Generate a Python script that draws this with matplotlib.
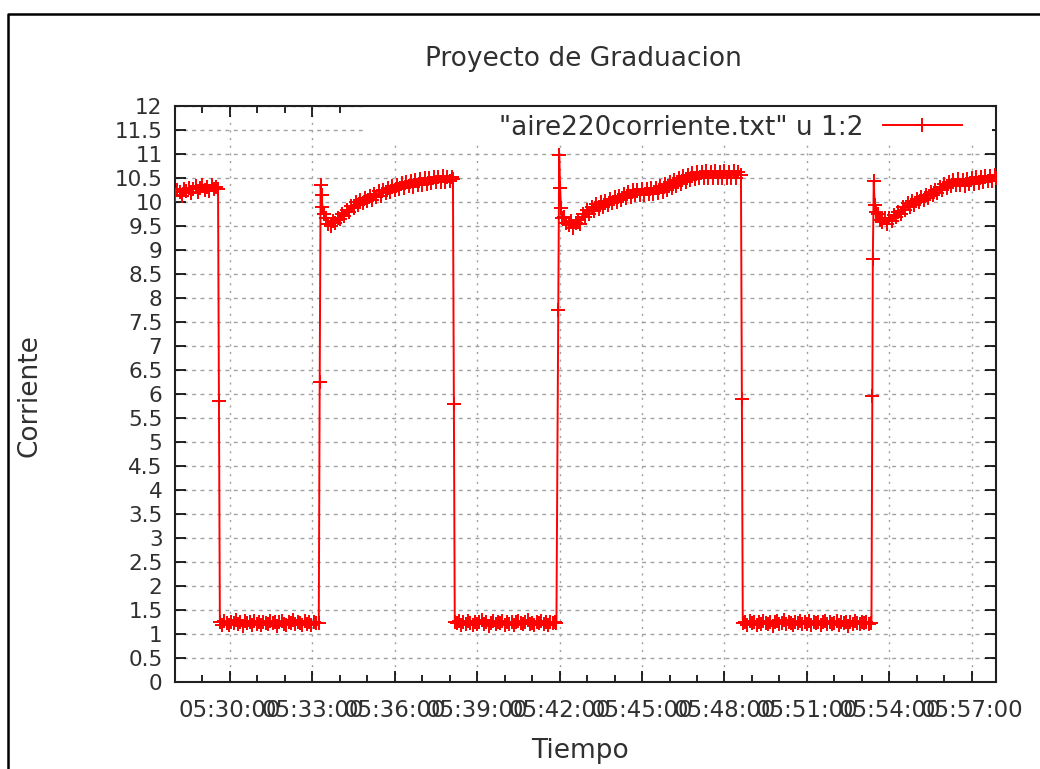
import matplotlib
matplotlib.use("Agg")
import matplotlib.pyplot as plt
import matplotlib.dates as mdates
from matplotlib.lines import Line2D
from matplotlib.patches import Rectangle
from matplotlib.ticker import FuncFormatter
import numpy as np

# Datos: corriente medida, tramos muestreados cada 5 s
PASO = 5
# segundo (desde las 05:30:00) del primer punto de cada tramo
inicio_tramos = [-120, -22, 210, 495, 730, 1125, 1415]

tramo_1 = [10.15, 10.26, 10.2, 10.12, 10.28, 10.22, 10.3, 10.18, 10.27, 10.33,
           10.21, 10.29, 10.35, 10.24, 10.31, 10.22, 10.36, 10.27, 10.32]
tramo_2 = [1.25, 1.19, 1.27, 1.22, 1.18, 1.26, 1.23, 1.29, 1.2, 1.24,
           1.17, 1.27, 1.22, 1.25, 1.19, 1.28, 1.21, 1.24, 1.18, 1.26,
           1.23, 1.2, 1.28, 1.22, 1.25, 1.17, 1.24, 1.27, 1.21, 1.19,
           1.26, 1.23, 1.29, 1.2, 1.25, 1.22, 1.18, 1.27, 1.21, 1.24,
           1.19, 1.26, 1.22]
tramo_3 = [9.66, 9.55, 9.5, 9.61, 9.57, 9.67, 9.64, 9.76, 9.71, 9.84,
           9.8, 9.92, 9.87, 10.0, 9.93, 10.05, 9.97, 10.09, 10.02, 10.12,
           10.05, 10.16, 10.1, 10.22, 10.13, 10.25, 10.18, 10.3, 10.21, 10.33,
           10.26, 10.36, 10.28, 10.4, 10.3, 10.41, 10.33, 10.44, 10.32, 10.45,
           10.36, 10.47, 10.35, 10.49, 10.38, 10.5, 10.4, 10.52, 10.41, 10.53,
           10.42, 10.54, 10.41, 10.52, 10.44, 10.53]
tramo_4 = [1.22, 1.27, 1.19, 1.25, 1.21, 1.28, 1.23, 1.18, 1.26, 1.2,
           1.24, 1.29, 1.21, 1.25, 1.17, 1.23, 1.27, 1.2, 1.24, 1.22,
           1.28, 1.19, 1.25, 1.21, 1.26, 1.18, 1.24, 1.27, 1.22, 1.2,
           1.25, 1.29, 1.21, 1.23, 1.18, 1.26, 1.22, 1.27, 1.2, 1.24,
           1.19, 1.26, 1.22, 1.25]
tramo_5 = [9.68, 9.57, 9.52, 9.6, 9.45, 9.56, 9.63, 9.55, 9.74, 9.68,
           9.83, 9.76, 9.9, 9.82, 9.95, 9.86, 9.99, 9.9, 10.03, 9.94,
           10.07, 9.97, 10.1, 10.0, 10.13, 10.04, 10.17, 10.08, 10.2, 10.11,
           10.24, 10.14, 10.26, 10.15, 10.27, 10.14, 10.28, 10.17, 10.29, 10.16,
           10.3, 10.19, 10.33, 10.21, 10.37, 10.25, 10.41, 10.29, 10.45, 10.34,
           10.5, 10.38, 10.54, 10.42, 10.57, 10.45, 10.6, 10.48, 10.62, 10.5,
           10.63, 10.5, 10.64, 10.51, 10.63, 10.5, 10.64, 10.49, 10.63, 10.51,
           10.64, 10.5, 10.62, 10.51, 10.64, 10.5, 10.62]
tramo_6 = [1.24, 1.19, 1.27, 1.22, 1.25, 1.18, 1.26, 1.21, 1.28, 1.23,
           1.2, 1.25, 1.17, 1.24, 1.27, 1.21, 1.23, 1.29, 1.2, 1.25,
           1.22, 1.18, 1.26, 1.23, 1.27, 1.2, 1.24, 1.21, 1.28, 1.19,
           1.25, 1.22, 1.26, 1.18, 1.24, 1.27, 1.21, 1.25, 1.2, 1.23,
           1.28, 1.19, 1.24, 1.22, 1.26, 1.17, 1.25, 1.21, 1.27, 1.23,
           1.2, 1.25, 1.22, 1.26, 1.21]
tramo_7 = [9.74, 9.63, 9.58, 9.66, 9.55, 9.67, 9.6, 9.72, 9.68, 9.8,
           9.76, 9.9, 9.83, 9.98, 9.9, 10.02, 9.94, 10.06, 9.99, 10.1,
           10.05, 10.15, 10.09, 10.2, 10.14, 10.26, 10.19, 10.32, 10.25, 10.37,
           10.3, 10.42, 10.33, 10.45, 10.35, 10.47, 10.36, 10.46, 10.34, 10.48,
           10.38, 10.5, 10.37, 10.52, 10.4, 10.53, 10.41, 10.55, 10.43, 10.54,
           10.44, 10.56]

# puntos sueltos en los encendidos / apagados
t_saltos = [-26, -24, 194, 196, 198, 200, 202, 205, 487, 489, 491,
            713, 717, 719, 721, 723, 725, 1116, 1118, 1120,
            1401, 1403, 1404, 1406, 1408, 1411, 1673]
v_saltos = [10.28, 5.85, 1.23, 6.25, 10.35, 10.15, 9.9, 9.75, 10.48, 5.8, 1.24,
            1.22, 7.75, 10.98, 10.3, 9.87, 9.67, 10.57, 5.9, 1.23,
            1.22, 5.95, 8.81, 10.44, 9.94, 9.8, 10.5]

y_ticks = np.arange(0, 12.5, 0.5)

# Juntar todo y ordenar por tiempo
tramos = [tramo_1, tramo_2, tramo_3, tramo_4, tramo_5, tramo_6, tramo_7]
t = list(t_saltos)
v = list(v_saltos)
for t0, vals in zip(inicio_tramos, tramos):
    t += [t0 + PASO * i for i in range(len(vals))]
    v += vals
orden = np.argsort(t)
t = np.array(t)[orden]
v = np.array(v)[orden]

base = np.datetime64("2000-01-01T05:30:00")
tiempos = base + t.astype("timedelta64[s]")

fig = plt.figure(figsize=(10.4, 7.69), dpi=100)
ax = fig.add_axes([175 / 1040, 1 - 682 / 769, 821 / 1040, 576 / 769])

gris = "#303030"

ax.plot(tiempos, v, color="red", lw=1.4, marker="+", ms=10, mew=1.4,
        label='"aire220corriente.txt" u 1:2', zorder=3)

ax.set_xlim(base + np.timedelta64(-120, "s"), base + np.timedelta64(1673, "s"))
ax.set_ylim(0, 12)

ax.xaxis.set_major_locator(mdates.MinuteLocator(byminute=range(0, 60, 3)))
ax.xaxis.set_minor_locator(mdates.MinuteLocator())
ax.xaxis.set_major_formatter(mdates.DateFormatter("%H:%M:%S"))
ax.set_yticks(y_ticks)
ax.yaxis.set_major_formatter(FuncFormatter(lambda y, p: "%g" % y))

ax.tick_params(which="both", direction="in", top=True, right=True, colors="black",
               labelcolor=gris)
ax.tick_params(which="major", length=8, width=1.2)
ax.tick_params(which="minor", length=5, width=1.2)
ax.tick_params(axis="x", pad=12, labelsize=16.5)
ax.tick_params(axis="y", pad=9, labelsize=15.5)

ax.grid(axis="y", color="#a0a0a0", lw=1, linestyle=(0, (2.8, 3.2)))
ax.grid(axis="x", which="major", color="#a0a0a0", lw=1, linestyle=(0, (1.5, 4)))
ax.set_axisbelow(True)
for s in ax.spines.values():
    s.set_linewidth(1.5)
    s.set_color("#202020")

# fondo blanco de la leyenda (tapa la rejilla como en gnuplot)
ax.add_patch(Rectangle((0.229, 0.936), 0.766, 0.064, transform=ax.transAxes,
                       facecolor="white", edgecolor="none", zorder=1))
leg = ax.legend(loc="upper right", bbox_to_anchor=(0.9586, 0.985), markerfirst=False,
                frameon=False, fontsize=19, handlelength=3.0, handletextpad=0.75,
                borderpad=0, borderaxespad=0)
for txt in leg.get_texts():
    txt.set_color(gris)

fig.text(583 / 1040, 1 - 59 / 769, "Proyecto de Graduacion", ha="center", va="center",
         fontsize=19, color=gris)
fig.text(580 / 1040, 1 - 751 / 769, "Tiempo", ha="center", va="center",
         fontsize=19, color=gris)
fig.text(30 / 1040, 1 - 396 / 769, "Corriente", ha="center", va="center",
         rotation=90, fontsize=19, color=gris)

# marco exterior
fig.add_artist(Line2D([8 / 1040, 8 / 1040, 1.0], [0.0, 1 - 14 / 769, 1 - 14 / 769],
                      transform=fig.transFigure, color="black", lw=1.8))

fig.savefig("out.png", dpi=100)
